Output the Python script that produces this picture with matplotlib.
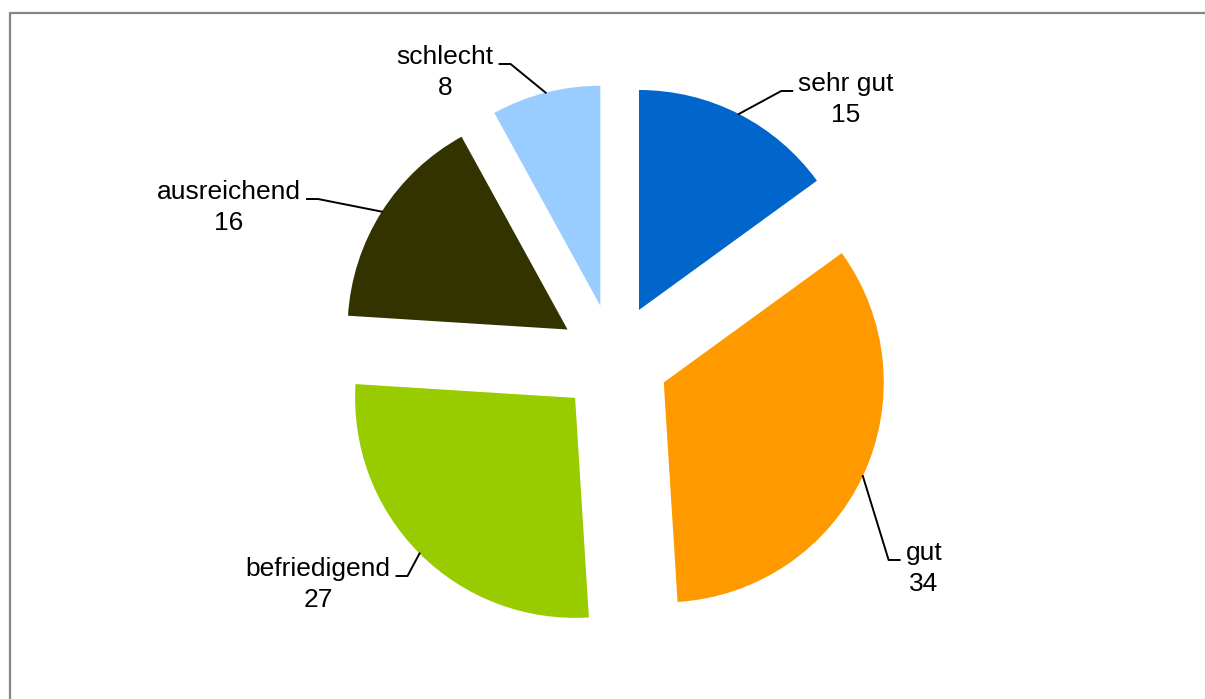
import math
import matplotlib.pyplot as plt
from matplotlib.patches import Rectangle

plt.rcParams['font.family'] = ['Liberation Sans', 'DejaVu Sans']

categories = ["sehr gut", "gut", "befriedigend", "ausreichend", "schlecht"]
values = [15, 34, 27, 16, 8]
colors = ["#0066CC", "#FF9900", "#99CC00", "#333300", "#99CCFF"]

# label baseline (pixels from top-left) and which side of the text the leader leaves
label_pos = [(846, 91), (924, 560), (318, 576), (229, 199), (445, 64)]
label_side = ["left", "left", "right", "right", "right"]

W, H = 1205, 699
fig = plt.figure(figsize=(W / 100, H / 100), dpi=100)
ax = fig.add_axes([0, 0, 1, 1])

wedges, _ = ax.pie(values, colors=colors, startangle=90, counterclock=False,
                   explode=[55] * len(values), radius=220, center=(614, H - 359),
                   wedgeprops=dict(linewidth=0))
ax.set_xlim(0, W)
ax.set_ylim(0, H)
ax.set_aspect("equal")
ax.axis("off")

# grey chart border (runs off the right and bottom edge)
ax.add_patch(Rectangle((9.5, -20), W + 20, H - 12.5 + 20, fill=False,
                       edgecolor="#868686", linewidth=1.6))

fig.canvas.draw()
renderer = fig.canvas.get_renderer()
for w, name, val, (lx, ly), side in zip(wedges, categories, values, label_pos, label_side):
    y = H - ly
    t = ax.text(lx, y, name, ha="center", va="baseline", fontsize=19)
    ax.text(lx, y - 31, str(val), ha="center", va="baseline", fontsize=19)
    bb = t.get_window_extent(renderer)

    # leader starts at the middle of the wedge's arc
    mid = math.radians((w.theta1 + w.theta2) / 2)
    cx, cy = w.center
    px = cx + w.r * math.cos(mid)
    py = cy + w.r * math.sin(mid)

    if side == "right":
        x0, x1 = bb.x1 + 6, bb.x1 + 17
    else:
        x0, x1 = bb.x0 - 6, bb.x0 - 17
    ax.plot([x0, x1, px], [y, y, py], color="black", linewidth=1.4)

fig.savefig("out.png", dpi=100)
